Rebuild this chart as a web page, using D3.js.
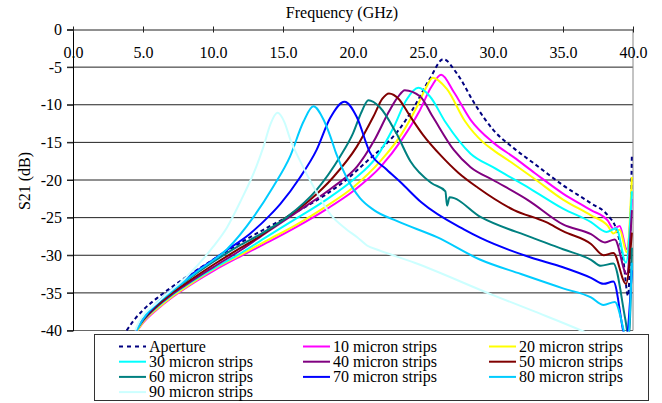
<!DOCTYPE html>
<html><head><meta charset="utf-8">
<script src="https://cdn.jsdelivr.net/npm/d3@7"></script>
<style>body{margin:0;background:#fff}svg{display:block}</style>
</head><body><svg id="c" width="662" height="403"></svg>
<script>
// ---- data (frequency GHz, S21 dB) ----
const freqTicks = [0, 5, 10, 15, 20, 25, 30, 35, 40];
const freqTickLabels = ["0.0", "5.0", "10.0", "15.0", "20.0", "25.0", "30.0", "35.0", "40.0"];
const dbTicks = [0, -5, -10, -15, -20, -25, -30, -35, -40];
const seriesNames = ["Aperture", "10 micron strips", "20 micron strips", "30 micron strips", "40 micron strips",
  "50 micron strips", "60 micron strips", "70 micron strips", "80 micron strips", "90 micron strips"];
const seriesColors = ["#000080", "#FF00FF", "#FFFF00", "#00FFFF", "#800080", "#800000", "#008080", "#0000FF", "#00CCFF", "#CCFFFF"];

const aperture = [[3.83,-40],[4.5,-38.3],[5,-37.3],[6,-35.7],[7,-34.3],[8,-33],[10,-30.6],[12,-28.3],[14,-26.2],[16,-24.2],[18,-22],[19.5,-20],[21,-17.5],[22.2,-15.5],[23.2,-13.5],[24.3,-10.5],[25.5,-6.5],[26.45,-3.94],[27.4,-5.8],[28.8,-10.2],[30,-13.3],[31.5,-15.8],[33,-17.9],[35,-20.7],[37,-23.1],[38.2,-24.7],[38.8,-26.5],[39.3,-30.5],[39.65,-35.4],[39.92,-16.5]];
const strips10 = [[4.6,-40],[5,-39],[6,-37.2],[7,-35.7],[8,-34.4],[10,-32.1],[12,-30.1],[14,-28.2],[16,-26.2],[18,-24],[20,-21.5],[22,-18.2],[23.5,-14.6],[24.7,-11],[25.6,-7.6],[26.3,-6.0],[27.2,-8.3],[28.4,-12],[30,-15],[31.5,-17],[33,-19.1],[35,-21.8],[37,-24],[38.2,-25.4],[38.6,-26.5],[39.05,-26.1],[39.55,-29.2],[39.92,-22.5]];
const strips20 = [[4.6,-40],[5,-38.9],[6,-37.1],[7,-35.6],[8,-34.3],[10,-31.9],[12,-29.9],[14,-27.9],[16,-25.9],[18,-23.6],[20,-21],[22,-17.4],[23.5,-13.8],[24.5,-10.5],[25.2,-7.8],[25.7,-6.4],[26.7,-7.9],[28,-12.2],[29.3,-15],[30,-16],[31.5,-17.9],[33,-19.9],[35,-22.6],[37,-24.7],[38.2,-26.1],[38.6,-27.1],[39.05,-26.6],[39.55,-29.6],[39.92,-19.6]];
const strips30 = [[4.5,-40],[5,-38.7],[6,-36.9],[7,-35.4],[8,-34.1],[10,-31.8],[12,-29.7],[13.8,-27.6],[15.7,-25.4],[18.1,-22.6],[20,-20],[21.7,-16.9],[22.9,-13],[23.8,-9.4],[24.67,-7.75],[25.5,-8.9],[26.6,-12.3],[28.4,-16.5],[30,-18.3],[32.7,-21.2],[35,-23.8],[37,-25.6],[38.1,-26.9],[38.8,-26.4],[39.5,-31],[39.92,-21.5]];
const strips40 = [[4.5,-40],[5,-38.7],[6,-36.8],[7,-35.3],[8,-34],[10,-31.6],[12,-29.3],[13.8,-27],[16.2,-24],[18.6,-20.9],[20.3,-18.2],[21.5,-14.8],[22.6,-10.8],[23.2,-9],[23.7,-8.06],[24.8,-8.9],[25.7,-11.6],[27.2,-16],[28.4,-18.3],[30,-20],[32.6,-22.8],[35,-25.9],[37,-27.2],[38,-28.3],[38.7,-27.9],[39.55,-32.5],[39.92,-24]];
const strips50 = [[4.5,-40],[5,-38.6],[6,-36.7],[7,-35.1],[8,-33.8],[10,-31.3],[12,-29],[13,-27.9],[15,-25.3],[16.9,-22.7],[18.6,-19.6],[20.26,-15.6],[21.45,-11.6],[22.1,-9.2],[22.57,-8.5],[23.3,-9.3],[24,-11.3],[25,-14],[26.3,-16.8],[27.5,-19],[28.9,-21],[31.5,-24],[33.8,-25.6],[35,-26.8],[37,-28.5],[37.9,-30],[38.6,-29.7],[39.5,-33.8],[39.92,-27]];
const strips60 = [[4.5,-40],[5,-38.5],[6,-36.5],[7,-34.9],[8,-33.5],[10,-30.9],[12,-28.6],[13.4,-27.2],[15.3,-24.9],[17.4,-21.3],[19.07,-16.9],[20,-13.8],[20.6,-11],[21.1,-9.4],[21.9,-10.3],[23.1,-13.8],[24.1,-17.5],[25.6,-20.4],[26.6,-21.5],[26.72,-23.4],[26.9,-22.3],[29.1,-24.9],[32.7,-27.6],[35,-29.2],[37,-30.6],[37.7,-31.4],[38.6,-31.1],[39.45,-38.5],[39.7,-41],[39.92,-29]];
const strips70 = [[4.5,-40],[5,-38.5],[6,-36.4],[7,-34.7],[8,-33.2],[10,-30.6],[11,-29.3],[12.6,-27.2],[14,-24.8],[14.8,-23.2],[16.2,-19.7],[17.4,-16],[18.36,-11.8],[19.4,-9.6],[20.26,-11.6],[21.2,-16.3],[22.4,-18.6],[23.4,-20.3],[24.9,-23],[27.95,-26.6],[29.1,-27.7],[32.7,-30.3],[35,-31.6],[37,-33],[37.9,-33.8],[38.6,-33.5],[39.5,-41],[39.92,-32]];
const strips80 = [[4.55,-40],[5,-38.5],[6,-36.3],[6.7,-35.3],[8,-33.4],[9.07,-31.9],[11,-29.2],[12.9,-24.9],[14.3,-20.9],[15.5,-16.9],[16.45,-12.3],[17.17,-10.2],[17.9,-12],[18.4,-14.3],[18.8,-16.5],[19.5,-19.5],[20.5,-22.4],[21.5,-24],[23.2,-25.5],[26,-27.6],[29.1,-30.6],[32,-32.5],[35,-34.4],[37,-35.6],[37.9,-36.6],[38.7,-36.2],[39.4,-40.5],[39.6,-42],[39.92,-31]];
const strips90 = [[4.45,-40],[4.55,-39.5],[6.2,-36],[8.1,-32.9],[10,-28.9],[11,-26.3],[12,-22.7],[13.1,-18.2],[13.6,-15.6],[14.1,-12.6],[14.6,-11.07],[15.1,-12.3],[15.5,-14.5],[16.2,-17.4],[17.3,-21.3],[18.4,-24.6],[19.5,-26.5],[20.3,-27.6],[21,-28.7],[21.8,-29.3],[24.4,-31],[30,-35.3],[33,-37.5],[36.3,-40],[37.5,-41]];

const seriesData = [aperture, strips10, strips20, strips30, strips40, strips50, strips60, strips70, strips80, strips90];

// ---- drawing ----
const FONT = "Liberation Serif";
const svg = d3.select("#c");
const x = d3.scaleLinear().domain([0, 40]).range([73, 633]);
const y = d3.scaleLinear().domain([-40, 0]).range([330.5, 29.5]);

// gridlines
svg.append("g").selectAll("line").data(dbTicks.filter(d => d !== 0 && d !== -40)).join("line")
  .attr("x1", 67).attr("x2", 633).attr("y1", d => y(d)).attr("y2", d => y(d))
  .attr("stroke", "#222").attr("stroke-width", 1);
// plot border (right, bottom)
svg.append("line").attr("x1", 633).attr("x2", 633).attr("y1", y(0)).attr("y2", y(-40)).attr("stroke", "#888");
svg.append("line").attr("x1", 67).attr("x2", 633).attr("y1", y(-40)).attr("y2", y(-40)).attr("stroke", "#666");

// y axis
const yAxis = d3.axisLeft(y).tickValues(dbTicks).tickSize(6).tickFormat(d => d === 0 ? "0" : String(d));
const gy = svg.append("g").attr("transform", "translate(73,0)").call(yAxis);
gy.attr("font-family", null).attr("font-size", null);
gy.select(".domain").attr("stroke", "#000");
gy.selectAll(".tick line").attr("stroke", "#222");
gy.selectAll(".tick text").attr("x", -11).attr("fill", "#000").attr("font-family", FONT).attr("font-size", 16);

// x axis along the 0 dB line, labels below it
const xAxis = d3.axisBottom(x).tickValues(freqTicks).tickSize(5).tickFormat((d, i) => freqTickLabels[i]);
const gx = svg.append("g").attr("transform", `translate(0,${y(0)})`).call(xAxis);
gx.attr("font-family", null).attr("font-size", null);
gx.select(".domain").attr("stroke", "#222").attr("d", "M67,0.5H633");
gx.selectAll(".tick line").attr("stroke", "#222").attr("y1", -3).attr("y2", 3);
gx.selectAll(".tick text").attr("y", 17).attr("dy", "0.71em").attr("fill", "#000").attr("font-family", FONT).attr("font-size", 16);

// clip
svg.append("clipPath").attr("id", "clip").append("rect")
  .attr("x", 73).attr("y", y(0)).attr("width", 560).attr("height", y(-40) - y(0) + 1);

const line = d3.line().x(d => x(d[0])).y(d => y(d[1])).curve(d3.curveMonotoneX);
const gl = svg.append("g").attr("clip-path", "url(#clip)");
seriesData.forEach((s, i) => {
  gl.append("path").attr("d", line(s)).attr("fill", "none")
    .attr("stroke", seriesColors[i]).attr("stroke-width", 2)
    .attr("stroke-dasharray", i === 0 ? "4,3" : null);
});

// titles
svg.append("text").attr("x", 342).attr("y", 18).attr("text-anchor", "middle").attr("font-family", FONT).attr("font-size", 16).text("Frequency (GHz)");
svg.append("text").attr("transform", "translate(30,181) rotate(-90)").attr("text-anchor", "middle").attr("font-family", FONT).attr("font-size", 16).text("S21 (dB)");

// legend
const lg = svg.append("g");
lg.append("rect").attr("x", 94.5).attr("y", 334.5).attr("width", 554).attr("height", 66).attr("fill", "#fff").attr("stroke", "#333");
const colX = [119, 303, 489];
seriesNames.forEach((n, i) => {
  const cx = colX[i % 3], row = Math.floor(i / 3);
  const by = 351.5 + row * 15.2;
  lg.append("line").attr("x1", cx).attr("x2", cx + 27).attr("y1", by - 5).attr("y2", by - 5)
    .attr("stroke", seriesColors[i]).attr("stroke-width", 2).attr("stroke-dasharray", i === 0 ? "4,4" : null);
  lg.append("text").attr("x", cx + 30).attr("y", by).attr("font-family", FONT).attr("font-size", 16).attr("fill", "#000").text(n);
});
</script></body></html>
